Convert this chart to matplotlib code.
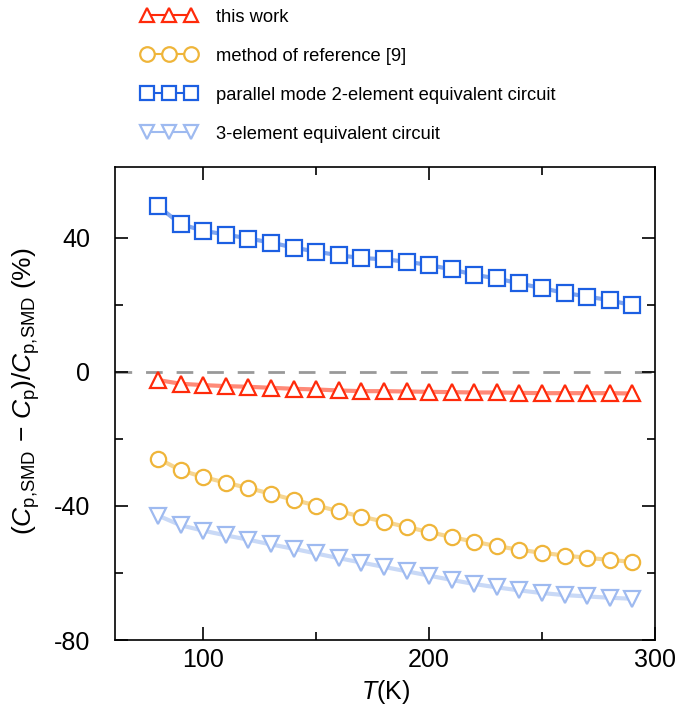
import matplotlib
matplotlib.use('Agg')
import matplotlib.pyplot as plt
from matplotlib.lines import Line2D

plt.rcParams['font.family'] = ['Liberation Sans', 'DejaVu Sans']
plt.rcParams['mathtext.fontset'] = 'custom'
plt.rcParams['mathtext.rm'] = 'Liberation Sans'
plt.rcParams['mathtext.it'] = 'Liberation Sans:italic'
plt.rcParams['axes.unicode_minus'] = False

T = [80, 90, 100, 110, 120, 130, 140, 150, 160, 170, 180,
     190, 200, 210, 220, 230, 240, 250, 260, 270, 280, 290]

this_work = [-2.5, -3.6, -4.0, -4.3, -4.5, -4.8, -5.1, -5.3, -5.6, -5.8, -5.8,
             -5.9, -6.0, -6.1, -6.2, -6.2, -6.3, -6.4, -6.4, -6.4, -6.4, -6.5]
ref9 = [-25.9, -29.4, -31.4, -33.1, -34.7, -36.4, -38.2, -39.9, -41.6, -43.2, -44.7,
        -46.3, -47.8, -49.3, -50.7, -52.0, -53.1, -54.0, -54.8, -55.5, -56.1, -56.7]
parallel_2el = [49.3, 44.0, 42.0, 40.9, 39.7, 38.5, 37.0, 35.8, 34.7, 33.9, 33.5,
                32.8, 31.8, 30.5, 28.9, 27.8, 26.3, 24.9, 23.5, 22.4, 21.3, 19.8]
three_el = [-42.9, -45.8, -47.4, -48.8, -50.1, -51.5, -52.8, -54.2, -55.6, -56.9, -58.2,
            -59.5, -60.8, -62.1, -63.3, -64.3, -65.2, -66.0, -66.6, -67.0, -67.4, -67.7]

series = [
    ('this work', this_work, '^', '#ff2a0a'),
    ('method of reference [9]', ref9, 'o', '#efb53a'),
    ('parallel mode 2-element equivalent circuit', parallel_2el, 's', '#1c5fe2'),
    ('3-element equivalent circuit', three_el, 'v', '#9ebaf0'),
]

fig = plt.figure(figsize=(6.78, 7.08), dpi=100)
ax = fig.add_axes([0.170, 0.096, 0.796, 0.668])

ax.axhline(0, color='#999999', lw=2, dashes=(6, 5), zorder=1)

handles = []
for label, vals, m, c in series:
    ax.plot(T, vals, '-', color=c, alpha=0.55, lw=3, zorder=2)
    ax.plot(T, vals, m, ls='none', ms=11, mec=c, mfc='white', mew=1.6, zorder=3)
    handles.append(Line2D([], [], color=c, marker=m, ms=10.5, mec=c, mfc='white',
                          mew=1.6, lw=1.5, label=label))

ax.set_xlim(61, 300)
ax.set_ylim(-80, 61)
ax.set_xticks([100, 200, 300])
ax.set_xticks([150, 250], minor=True)
ax.set_yticks([-80, -40, 0, 40])
ax.set_yticks([-60, -20, 20], minor=True)
ax.tick_params(which='both', direction='in', top=True, right=True, labelsize=18, width=1.2)
ax.tick_params(which='major', length=9.5)
ax.tick_params(which='minor', length=5.5)
ax.tick_params(axis='x', which='major', pad=6)
ax.tick_params(axis='y', which='major', pad=18)
for sp in ax.spines.values():
    sp.set_linewidth(1.2)

ax.set_xlabel(r'$T$(K)', fontsize=18, labelpad=4)
ax.set_ylabel(r'$(C_{\rm p{,}SMD}\,-\,C_{\rm p})/C_{\rm p{,}SMD}$ (%)', fontsize=19)
ax.yaxis.set_label_coords(-0.135, 0.526)

fig.legend(handles=handles, loc='upper left', bbox_to_anchor=(0.193, 1.003),
           frameon=False, fontsize=13.2, numpoints=3, handlelength=3.0,
           handletextpad=1.05, labelspacing=1.2, borderaxespad=0.2)

fig.savefig('out.png', dpi=100)
